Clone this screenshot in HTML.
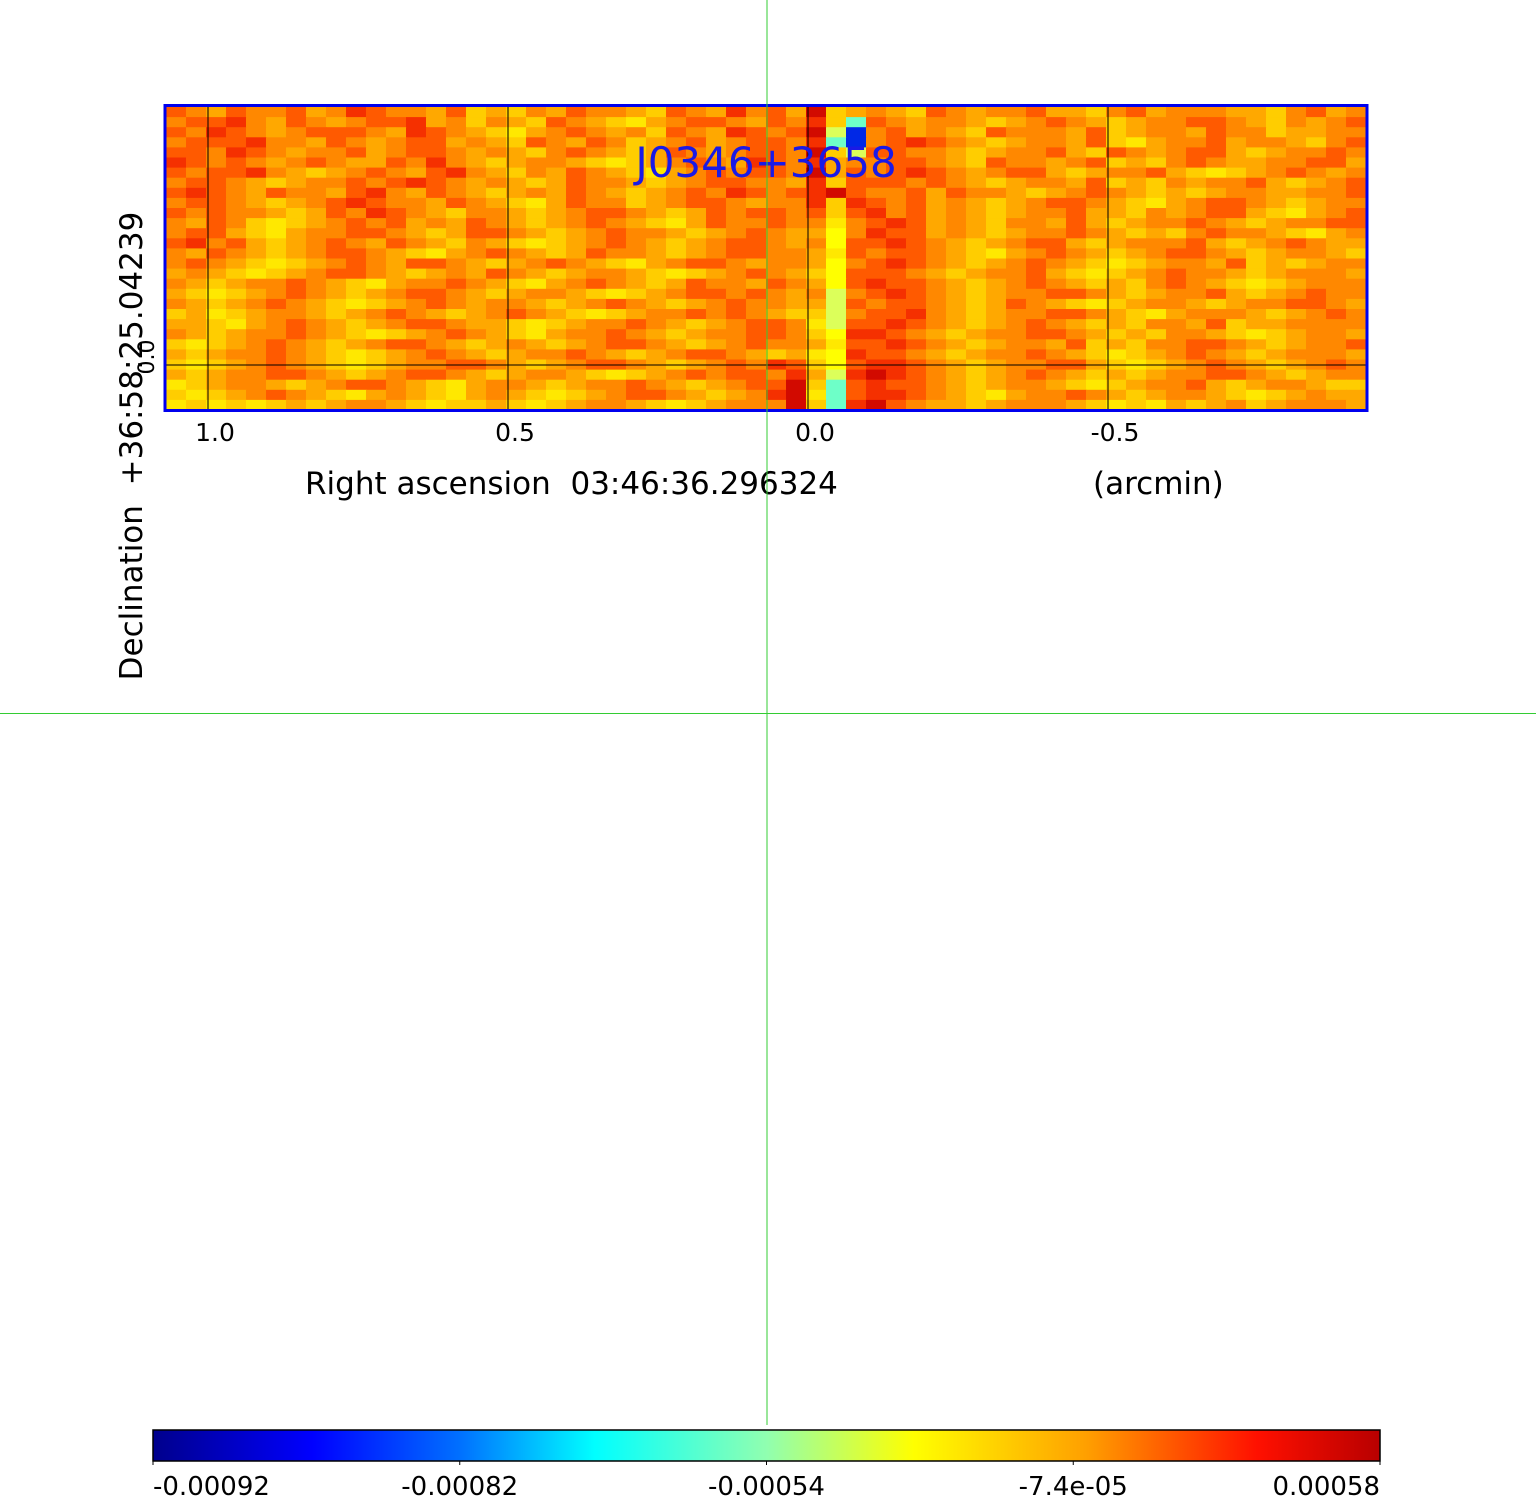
<!DOCTYPE html>
<html><head><meta charset="utf-8"><style>
html,body{margin:0;padding:0;background:#fff;}
svg{display:block;font-family:"DejaVu Sans","Liberation Sans",sans-serif;}
</style></head><body>
<svg id="chart" width="1536" height="1500" viewBox="0 0 1536 1500">
<defs>
<linearGradient id="jet" x1="0" x2="1" y1="0" y2="0">
<stop offset="0" stop-color="#00008c"/><stop offset="0.13" stop-color="#0000ff"/>
<stop offset="0.25" stop-color="#0070ff"/><stop offset="0.36" stop-color="#00ffff"/>
<stop offset="0.5" stop-color="#90ffb0"/><stop offset="0.62" stop-color="#ffff00"/>
<stop offset="0.76" stop-color="#ffa000"/><stop offset="0.9" stop-color="#ff1000"/>
<stop offset="1" stop-color="#b80000"/>
</linearGradient>
</defs>
<g id="cells"></g>
<g id="grid"></g>
<rect x="165" y="105.5" width="1202" height="305" fill="none" stroke="#0000ee" stroke-width="3"/>
<text x="766" y="177" font-size="42" fill="#1a1ae6" text-anchor="middle">J0346+3658</text>
<g id="xticks" font-size="25"></g>
<text x="305" y="494" font-size="31">Right ascension&#160; 03:46:36.296324</text>
<text x="1093" y="494" font-size="31">(arcmin)</text>
<text transform="translate(142,446) rotate(-90)" font-size="31" text-anchor="middle">Declination&#160; +36:58:25.04239</text>
<text transform="translate(154,357) rotate(-90)" font-size="22" text-anchor="middle">0.0</text>
<rect x="766.5" y="0" width="1" height="1425" fill="#33cc33"/>
<rect x="0" y="713" width="1536" height="1" fill="#33cc33"/>
<rect x="153" y="1430" width="1227" height="31" fill="url(#jet)" stroke="#000" stroke-width="1.5"/>
<g id="cbticks" font-size="26"></g>
</svg>
<script>
const cbLabels = ["-0.00092","-0.00082","-0.00054","-7.4e-05","0.00058"];
const cbPositions = [0, 0.25, 0.5, 0.75, 1];
const xTickLabels = ["1.0","0.5","0.0","-0.5"];
const xTickValues = [1.0, 0.5, 0.0, -0.5];
const yGridValues = [0.0];
// pixel intensity levels per row (a=yellow ... h=dark red, w/x=green/cyan, z=blue)
const rows = [
"fedfeefdegfeedfcdcedfeedcfedgefdhcdedcfedeefddcefdeeeddcefde",
"effgedfedeffgdecedcfedcbdeffedfegcxfedeedcdefedcdeeffedcedef",
"fegfedefffedgfedcbdefedecfedgfefhwzefdedcfeeedfcdeedfeecddee",
"efffgeedfedeffdedcfedfecdefdeffegxzefgfedcdeedfcbdeefdeedcef",
"ffegfedeefdeffededcefedcdfedeffehcwffeedcdeefdcfedeffdcdeefe",
"gfefedefeddfegedcdeedcbcdefedgfegdeeffedcfeedefcdcefeddeeffd",
"feffgedcdefedfgedcedfedcbdefeffehdfefgfedeffdcdeefdcbcdefede",
"effedcdeefefgfededcdfeedcdeffeedgcfffefedcdeedfcdcedeefdcdef",
"fgfedfeedfgedfedcdedfedcdefegfefghfeefdfeedcdefedcdcdeeddeef",
"effedcdefgfeedfedcbdfeecdeffedeegcgfefdedcdeffedcbdeffedcdee",
"fefeedcdfegfedceedcdeffedcdfeffefcfgefdedcdeefddcedeffdcbdef",
"edfecbcdefefdedfedcdefedcbdfeefeebefgfdedceedfdcdeefedcdeeff",
"effdcbdeeffedcdffedcdefeedcdefeddaegffdedcdeefedcdcefeedcbde",
"fgefdcdefedfedcedcbcdefedcdeffedeaffgfedcdeffdcdeeefdcdefedd",
"edfedcdeffedcbdefedcdfeedcdeffeedbfeffedcbdefedcdeffedcdeedc",
"efedcbcdefedffedcdefedcbdeffedeedaefgfedcdefedcbcdeedfcdcdee",
"dedcbcdeffedcdedfedcdeedcbcdefedcafffedcdeefdcbcdefeedcdeeed",
"edcdeefedcbdeefedcbdefedcdfeedfedafgffedcdefedcdcefedcbcdeee",
"dcbcdefedcdeffedcdeedcbcdeffefedewefgfedcdeeffedcdeefdcdefee",
"edcdefedcbcdefedeedcdefedcdefeeddwfeffedcdfedcbcdeedcdeeffed",
"cdbcdeedcdefedcdefedcbcdeefefedccweffgedcdeeffedcbdeeedcdefe",
"ddcbdefedcdeffeddcbcdeefedcdeffebwffgfedcdefedcdceedfcddeeee",
"edcdeefedcbcdefedcbdeefedcdeeffecaggfedcdeeffedcdceedcbcdeed",
"cbcdefedcdeffedcdedcdeffedcdefeedbffgfedcdeedfcdceeffedcdeef",
"dcdeefedcbcdefedcdeefedcdeffedcdbagffedcdeefedcbcdefedcdeeed",
"cbcdefedcbcdeeffedcdeffedcdefegfcafggfedcdeeffdcbcdefedcdefe",
"dcdeeffedcdeffedcdeedcbcdefeffegdwghgfedcdefedcdcdeeffedcdee",
"bcdeedcdeffedcbdeedcdeefedcdeffhcxfgffedcdeedcbcdeefdcdeedcc",
"cbcdefedcbdedcbdedcbcdeffedcdeghbxfggfedcbdeefedcdeedcbcdedd",
"bcbcbcdcdeedcbccdcbcdeedcbcdeeehcxghfeddcdeeedcbcbdcdecdeeed"
];
const levelColors = {a:"#ffff00",b:"#ffe800",c:"#ffcd00",d:"#ffa800",e:"#ff8800",f:"#ff5a00",g:"#f53000",h:"#d20a00",w:"#dcff5a",x:"#6effc8",z:"#0028e6"};
const NS="http://www.w3.org/2000/svg";
const X0=166,X1=1366,Y0=107,Y1=410;
const nCols=60,nRows=rows.length;
const cw=(X1-X0)/nCols, ch=(Y1-Y0)/nRows;
function xArc(v){return 808 - v*600;}
function yArc(v){return 365 - v*600;}
function cbX(p){return 153 + p*1227;}
const cells=document.getElementById('cells');
rows.forEach((r,i)=>{
  for(let j=0;j<nCols;j++){
    const c=r[j]||'e';
    const el=document.createElementNS(NS,'rect');
    el.setAttribute('x',(X0+j*cw).toFixed(2));
    el.setAttribute('y',(Y0+i*ch).toFixed(2));
    el.setAttribute('width',(cw+0.6).toFixed(2));
    el.setAttribute('height',(ch+0.6).toFixed(2));
    el.setAttribute('fill',levelColors[c]||levelColors.e);
    
    
    cells.appendChild(el);
  }
});
const grid=document.getElementById('grid');
const xt=document.getElementById('xticks');
xTickValues.forEach((v,k)=>{
  const x=xArc(v);
  const l=document.createElementNS(NS,'line');
  l.setAttribute('x1',x);l.setAttribute('x2',x);l.setAttribute('y1',Y0);l.setAttribute('y2',Y1);
  l.setAttribute('stroke','#000');l.setAttribute('stroke-width','1');
  
  
  grid.appendChild(l);
  const t=document.createElementNS(NS,'text');
  t.setAttribute('x',x+7);t.setAttribute('y',441);t.setAttribute('text-anchor','middle');
  t.textContent=xTickLabels[k];
  
  
  xt.appendChild(t);
});
yGridValues.forEach(v=>{
  const y=yArc(v);
  const l=document.createElementNS(NS,'line');
  l.setAttribute('x1',X0);l.setAttribute('x2',X1);l.setAttribute('y1',y);l.setAttribute('y2',y);
  l.setAttribute('stroke','#000');l.setAttribute('stroke-width','1');
  
  
  grid.appendChild(l);
});
const cb=document.getElementById('cbticks');
cbPositions.forEach((p,k)=>{
  const x=cbX(p);
  const l=document.createElementNS(NS,'line');
  l.setAttribute('x1',x);l.setAttribute('x2',x);l.setAttribute('y1',1461);l.setAttribute('y2',1465);
  l.setAttribute('stroke','#000');
  
  
  cb.appendChild(l);
  const t=document.createElementNS(NS,'text');
  t.setAttribute('x',x);t.setAttribute('y',1495);
  t.setAttribute('text-anchor',k===0?'start':(k===cbPositions.length-1?'end':'middle'));
  t.textContent=cbLabels[k];
  
  
  cb.appendChild(t);
});
</script>
</body></html>
